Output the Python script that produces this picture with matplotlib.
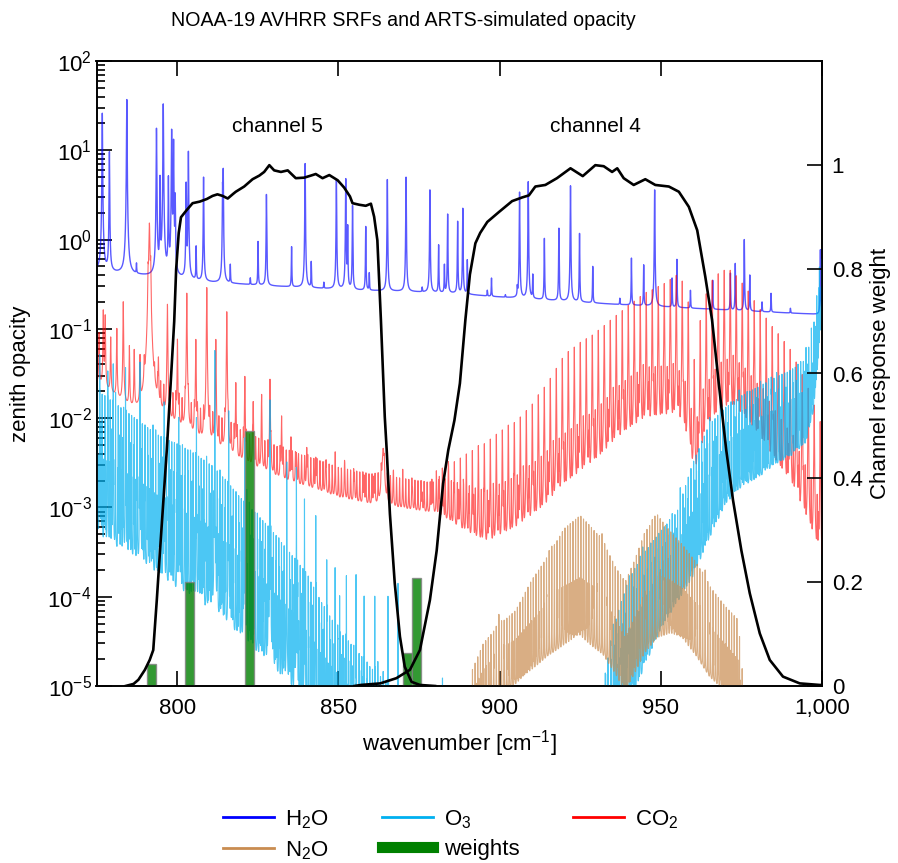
import numpy as np
import matplotlib
matplotlib.use("Agg")
import matplotlib.pyplot as plt
from matplotlib.lines import Line2D
from matplotlib.ticker import FixedLocator, FuncFormatter, LogLocator, NullFormatter

plt.rcParams['font.family'] = ['Liberation Sans', 'DejaVu Sans']
plt.rcParams['mathtext.fontset'] = 'custom'
plt.rcParams['mathtext.rm'] = 'Liberation Sans'
plt.rcParams['mathtext.it'] = 'Liberation Sans:italic'
plt.rcParams['mathtext.bf'] = 'Liberation Sans:bold'

# ---------------- data ----------------
# H2O: continuum and individual lines (wavenumber, peak opacity)
h2o_base_wn = [775, 781, 790, 811, 831, 857, 873, 886, 898, 934, 960, 991, 1000]
h2o_base_val = [0.45, 0.42, 0.39, 0.33, 0.30, 0.27, 0.26, 0.25, 0.23, 0.19, 0.17, 0.15, 0.145]
h2o_line_wn = [776.8, 779.0, 784.4, 787.4, 793.6, 794.7, 795.7, 797.3, 798.3, 798.9, 799.4,
               802.8, 803.5, 805.9, 808.2, 814.1, 814.3, 816.5, 822.7, 825.1, 827.7, 835.5,
               839.7, 841.6, 845.5, 849.4, 852.3, 852.9, 854.4, 858.5, 859.6, 865.2, 871.0,
               876.0, 878.4, 881.1, 882.9, 883.9, 887.0, 888.6, 890.0, 896.2, 897.5, 901.8,
               905.5, 906.2, 908.9, 910.3, 913.9, 918.4, 922.0, 924.8, 928.9, 937.3, 940.9,
               944.7, 948.1, 953.5, 955.0, 959.2, 966.1, 971.6, 973.1, 975.9, 977.6, 981.4,
               984.2, 990.2, 999.5]
h2o_line_val = [26, 9.6, 37, 0.52, 17.6, 5, 33, 5, 17, 13, 3,
                4.3, 9.7, 0.83, 5.0, 3.8, 5.9, 0.52, 0.37, 0.95, 3.2, 0.83,
                7.1, 0.56, 0.33, 4.7, 4.8, 1.4, 2.4, 1.4, 0.42, 4.7, 5.0,
                0.29, 3.6, 0.87, 0.52, 1.93, 1.6, 2.24, 0.59, 0.27, 0.37, 0.24,
                0.28, 3.4, 4.45, 0.4, 1.03, 1.34, 4.0, 1.17, 0.5, 0.22, 0.62,
                0.52, 3.6, 0.37, 0.6, 0.27, 0.35, 0.42, 0.54, 1.0, 0.40, 0.2,
                0.25, 0.17, 0.77]

# CO2: continuum (line-free floor)
co2_base_wn = [775, 780, 785, 790, 795, 800, 805, 810, 815, 820, 825, 830, 835, 840, 845, 850,
               855, 860, 865, 870, 875, 880, 885, 890, 897, 902, 910, 920, 925, 930, 935, 940,
               945, 950, 955, 959, 961, 964, 968, 972, 976, 980, 985, 990, 995, 1000]
co2_base_val = [0.025, 0.018, 0.012, 0.009, 0.009, 0.007, 0.0055, 0.0047, 0.0038, 0.003, 0.0025,
                0.0021, 0.0018, 0.0016, 0.0014, 0.0012, 0.0011, 0.001, 0.00095, 0.0009, 0.00085,
                0.0008, 0.0006, 0.0004, 0.00025, 0.0003, 0.0004, 0.00055, 0.0007, 0.0011,
                0.0018, 0.0028, 0.0033, 0.003, 0.002, 0.001, 0.0008, 0.0012, 0.0023, 0.003,
                0.0028, 0.002, 0.001, 0.0005, 0.0002, 0.00008]
# CO2 lines 775-880 (wavenumber, peak opacity)
co2_line_wn = [775.8, 777.1, 777.7, 779.4, 781.3, 783.3, 785.2, 786.7, 788.5, 789.8, 791.0,
               791.4, 791.8, 794.2, 797.0, 800.1, 803.0, 805.8, 809.2, 812.0, 815.4, 818.2,
               821.0, 823.6, 826.2, 828.8, 832.4, 835.3, 837.0, 840.2, 843.0, 846.0, 849.0,
               852.0, 855.0, 858.0, 861.0, 863.9, 867.0, 870.0, 873.0, 876.0, 879.0]
co2_line_val = [0.09, 0.16, 0.14, 0.08, 0.10, 0.20, 0.063, 0.056, 0.045, 0.03, 0.3,
                1.5, 0.4, 0.04, 0.185, 0.075, 0.25, 0.075, 0.285, 0.07, 0.155, 0.0245,
                0.029, 0.0147, 0.016, 0.027, 0.0104, 0.006, 0.0039, 0.0045, 0.0035, 0.003, 0.0028,
                0.0025, 0.0023, 0.0022, 0.0021, 0.0045, 0.0018, 0.0016, 0.0015, 0.0014, 0.002]
# CO2 band lines 880-1000: peak envelope of the strong lines
co2_peak_wn = [880, 885, 890, 895, 900, 905, 910, 915, 920, 925, 930, 935, 940, 945, 950,
               955, 958, 960.5, 963, 966, 969, 972, 976, 980, 985, 990, 995, 1000]
co2_peak_val = [0.0025, 0.003, 0.004, 0.005, 0.007, 0.009, 0.014, 0.025, 0.05, 0.07, 0.09,
                0.13, 0.18, 0.25, 0.3, 0.4, 0.3, 0.04, 0.2, 0.35, 0.45, 0.45, 0.3, 0.18, 0.1,
                0.06, 0.025, 0.008]
co2_band = (880.4, 1000.0, 1.86)      # first line, last, spacing
co2_band3 = (881.1, 1000.0, 1.55)
co2_weak = (793.0, 880.0, 0.95)

# O3: upper and lower envelopes of the line forest
o3_env_wn = [775, 780, 785, 790, 795, 800, 805, 810, 815, 820, 825, 830, 835, 840, 845,
             850, 855, 860, 865, 870, 875, 900, 930, 935, 940, 945, 950, 955, 960, 965,
             970, 975, 980, 985, 990, 995, 997.5, 999, 1000]
o3_top_val = [0.02, 0.015, 0.011, 0.008, 0.006, 0.005, 0.004, 0.003, 0.002, 0.0012, 0.0008,
              0.0005, 0.0003, 0.00018, 8e-5, 4e-5, 2.5e-5, 1.5e-5, 1e-5, 5e-6, 2e-6, 1e-7,
              3e-6, 4e-5, 1.5e-4, 3e-4, 5e-4, 8e-4, 0.003, 0.008, 0.012, 0.016, 0.02, 0.025,
              0.03, 0.04, 0.1, 0.35, 0.9]
o3_bot_val = [4e-4, 3e-4, 2.5e-4, 2e-4, 1.4e-4, 1e-4, 8e-5, 6e-5, 4e-5, 3e-5, 2e-5, 1.3e-5,
              8e-6, 5e-6, 3e-6, 2e-6, 1.5e-6, 1e-6, 1e-6, 1e-6, 1e-6, 1e-8,
              1e-7, 2e-6, 5e-6, 1.5e-5, 4e-5, 8e-5, 1.5e-4, 4e-4, 0.001, 0.0016, 0.002,
              0.0028, 0.0035, 0.005, 0.012, 0.05, 0.2]
o3_spike_wn = [776.0, 778.5, 780.2, 784.0, 788.5, 796.0, 800.5, 806.0, 811.7, 816.0, 821.0,
               828.8, 834.0, 837.0, 839.5, 843.0, 846.4, 849.0, 850.4, 852.5, 855.5, 858.0,
               861.3, 865.4, 868.5, 882.3]
o3_spike_val = [0.05, 0.03, 0.04, 0.035, 0.042, 0.015, 0.01, 0.01, 0.057, 0.012, 0.006,
                0.016, 0.003, 0.0028, 0.0012, 0.0008, 0.00025, 0.0002, 0.0001, 0.00017, 0.00017,
                0.0001, 0.0001, 0.0001, 0.00014, 1.2e-5]
o3_sets = [(775.10, 0.83, 1.0), (775.45, 0.61, 0.55), (775.25, 1.13, 0.8)]

# N2O: upper and lower envelopes
n2o_env_wn = [891.5, 895, 900, 905, 910, 915, 920, 925, 928, 932, 936, 939, 942, 945, 949,
              953, 957, 961, 965, 970, 974, 975.5]
n2o_top_val = [1.2e-5, 2.5e-5, 4e-5, 6e-5, 1.4e-4, 2.6e-4, 5.5e-4, 7.8e-4, 6e-4, 4e-4, 2e-4,
               1.4e-4, 2.5e-4, 5e-4, 7.8e-4, 5e-4, 3.4e-4, 2.2e-4, 1.2e-4, 7e-5, 5e-5, 1e-5]
n2o_bot_val = [3e-6, 5e-6, 8e-6, 1e-5, 1.4e-5, 2e-5, 2.5e-5, 3e-5, 2.5e-5, 2e-5, 1.2e-5, 7e-6,
               1.2e-5, 2e-5, 3e-5, 3.5e-5, 3e-5, 2e-5, 1.2e-5, 8e-6, 5e-6, 2e-6]
n2o_sets = [(891.6, 0.82, 1.0), (892.0, 0.78, 0.45)]

# Spectral response functions (wavenumber, weight)
ch5_wn = [784.0, 786.5, 788.0, 790.0, 791.5, 792.6, 793.7, 794.7, 796.8, 797.9, 799.1, 799.7,
          800.5, 801.2, 803.0, 804.8, 807.0, 809.2, 811.0, 812.5, 814.1, 815.7, 817.4, 818.2,
          820.8, 823.4, 825.5, 827.0, 828.6, 830.1, 832.2, 834.3, 836.8, 839.4, 841.5, 843.0,
          845.1, 847.2, 849.8, 851.8, 853.6, 854.4, 856.5, 858.5, 860.1, 861.1, 862.1, 863.2,
          864.4, 865.0, 866.0, 867.5, 869.1, 870.6, 872.7, 875.3, 880.0]
ch5_val = [0.0, 0.004, 0.012, 0.031, 0.05, 0.069, 0.165, 0.26, 0.453, 0.57, 0.70, 0.80,
           0.87, 0.90, 0.914, 0.927, 0.93, 0.935, 0.941, 0.944, 0.941, 0.936, 0.945, 0.949,
           0.959, 0.973, 0.98, 0.987, 1.0, 0.99, 0.987, 0.99, 0.975, 0.976, 0.98, 0.983,
           0.975, 0.981, 0.971, 0.957, 0.94, 0.927, 0.924, 0.922, 0.926, 0.901, 0.856, 0.703,
           0.517, 0.453, 0.33, 0.197, 0.095, 0.037, 0.008, 0.002, 0.0]
ch4_wn = [855.0, 857.0, 863.0, 868.0, 872.2, 875.3, 878.4, 880.5, 882.5, 884.1, 886.0, 887.7,
          889.4, 890.8, 892.5, 894.0, 896.2, 899.8, 903.9, 907.0, 909.1, 911.1, 914.2, 917.8,
          922.0, 925.8, 929.7, 932.3, 934.9, 936.5, 938.5, 941.6, 945.2, 948.3, 952.5, 955.6,
          958.7, 961.3, 963.8, 965.9, 968.0, 970.3, 972.4, 975.0, 977.6, 980.7, 983.8, 987.9,
          993.1, 999.3, 1000.0]
ch4_val = [0.0, 0.002, 0.005, 0.015, 0.031, 0.069, 0.165, 0.26, 0.389, 0.453, 0.51, 0.581,
           0.703, 0.79, 0.85, 0.87, 0.891, 0.91, 0.931, 0.938, 0.942, 0.959, 0.962, 0.975,
           0.994, 0.979, 1.0, 0.998, 0.987, 0.994, 0.975, 0.962, 0.973, 0.962, 0.959, 0.949,
           0.92, 0.875, 0.786, 0.703, 0.58, 0.453, 0.357, 0.26, 0.178, 0.101, 0.05, 0.018,
           0.005, 0.002, 0.002]

weight_wn = [792.2, 803.7, 822.3, 871.4, 874.2]
weight_val = [0.042, 0.20, 0.49, 0.063, 0.208]

# ---------------- build spectra ----------------
wn = np.arange(775.0, 1000.0005, 0.01)


def envelope(x, ax_, ay_):
    return 10 ** np.interp(x, ax_, np.log10(ay_))


def lines(x, centers, heights, gamma, window=8.0):
    out = np.zeros_like(x)
    for c, h in zip(centers, heights):
        i0 = np.searchsorted(x, c - window)
        i1 = np.searchsorted(x, c + window)
        d = x[i0:i1] - c
        out[i0:i1] += h * gamma ** 2 / (d ** 2 + gamma ** 2)
    return out


# H2O
h2o_base = envelope(wn, h2o_base_wn, h2o_base_val)
h2o_h = np.array(h2o_line_val) - np.interp(h2o_line_wn, wn, h2o_base)
h2o = h2o_base + lines(wn, h2o_line_wn, h2o_h, 0.07, window=40)

# CO2
co2_base = envelope(wn, co2_base_wn, co2_base_val)
c_q = np.array(co2_line_wn)
h_q = np.array(co2_line_val) - np.interp(c_q, wn, co2_base)
gam = np.where(np.isclose(c_q, 791.4), 0.18, np.where(np.isclose(c_q, 863.9), 0.35, 0.09))
co2 = co2_base.copy()
for c, h, g in zip(c_q, h_q, gam):
    co2 += lines(wn, [c], [h], g, window=15)
cb = np.arange(*co2_band)
pk = envelope(cb, co2_peak_wn, co2_peak_val)
co2 += lines(wn, cb, np.clip(pk - np.interp(cb, wn, co2_base), 0, None), 0.08)
cb2 = cb[:-1] + co2_band[2] / 2
pk2 = np.sqrt(envelope(cb2, co2_peak_wn, co2_peak_val) * np.interp(cb2, wn, co2_base))
co2 += lines(wn, cb2, pk2, 0.06)
cb3 = np.arange(*co2_band3)
pk3 = (envelope(cb3, co2_peak_wn, co2_peak_val) ** 0.35
       * np.interp(cb3, wn, co2_base) ** 0.65)
co2 += lines(wn, cb3, pk3, 0.05)
cw = np.arange(*co2_weak)
co2 += lines(wn, cw, 1.3 * np.interp(cw, wn, co2_base), 0.08)

# O3
o3_bot = envelope(wn, o3_env_wn, o3_bot_val)
o3 = o3_bot.copy()
for start, step, frac in o3_sets:
    cc = np.arange(start, 1000.0, step)
    top = envelope(cc, o3_env_wn, o3_top_val)
    bot = envelope(cc, o3_env_wn, o3_bot_val)
    o3 += lines(wn, cc, top ** frac * bot ** (1 - frac), 0.015, window=3)
o3 += lines(wn, o3_spike_wn, o3_spike_val, 0.015, window=3)

# N2O
n2o_bot = envelope(wn, n2o_env_wn, n2o_bot_val)
inband = (wn >= n2o_env_wn[0]) & (wn <= n2o_env_wn[-1])
n2o = n2o_bot.copy()
for start, step, frac in n2o_sets:
    cc = np.arange(start, n2o_env_wn[-1], step)
    top = envelope(cc, n2o_env_wn, n2o_top_val)
    bot = envelope(cc, n2o_env_wn, n2o_bot_val)
    n2o += lines(wn, cc, top ** frac * bot ** (1 - frac), 0.02, window=3)
n2o = np.where(inband, n2o, np.nan)

# ---------------- plot ----------------
W, H = 898, 863
fig = plt.figure(figsize=(W / 100, H / 100), dpi=100)
L, R, T, B = 96.5, 822, 61, 686
ax = fig.add_axes([L / W, 1 - B / H, (R - L) / W, (B - T) / H])
ax2 = ax.twinx()

c_h2o, c_o3, c_co2, c_n2o = '#0000ff', '#00b0f0', '#ff0000', '#c98c50'
ax.semilogy(wn, h2o, color=c_h2o, lw=1.0, alpha=0.65, zorder=2)
ax.semilogy(wn, co2, color=c_co2, lw=0.8, alpha=0.6, zorder=3)
ax.semilogy(wn, o3, color=c_o3, lw=0.8, alpha=0.7, zorder=4)
ax.semilogy(wn, n2o, color=c_n2o, lw=0.8, alpha=0.7, zorder=5)

ax.set_xlim(775, 1000)
ax.set_ylim(1e-5, 1e2)
ax.set_xticks([800, 850, 900, 950, 1000])
ax.xaxis.set_major_formatter(FuncFormatter(lambda v, p: f"{v:,.0f}"))
ax.yaxis.set_major_locator(LogLocator(base=10, numticks=20))
ax.yaxis.set_minor_locator(LogLocator(base=10, subs=np.arange(2, 10), numticks=100))
ax.yaxis.set_minor_formatter(NullFormatter())
ax.tick_params(which='both', direction='in', top=True, right=False, labelsize=16,
               width=1.2)
ax.tick_params(which='major', length=11)
ax.tick_params(which='minor', length=6)
ax.tick_params(axis='x', pad=8.5)
ax.set_xlabel('wavenumber [cm$^{-1}$]', fontsize=16, labelpad=7)
ax.set_ylabel('zenith opacity', fontsize=16, labelpad=12)

ax2.bar(weight_wn, weight_val, width=2.8, color='green', alpha=0.8,
        edgecolor='gray', linewidth=1.0, zorder=1)
ax2.plot(ch5_wn, ch5_val, color='black', lw=1.9, zorder=3)
ax2.plot(ch4_wn, ch4_val, color='black', lw=1.9, zorder=3)
ax2.set_ylim(0, 1.2)
ax2.set_xlim(775, 1000)
ax2.yaxis.set_major_locator(FixedLocator([0, 0.2, 0.4, 0.6, 0.8, 1.0]))
ax2.yaxis.set_major_formatter(FuncFormatter(lambda v, p: f"{v:g}"))
ax2.tick_params(direction='in', length=11, width=1.2, labelsize=16, pad=7)
ax2.set_ylabel('Channel response weight', fontsize=16, labelpad=5)

for a in (ax, ax2):
    for s in a.spines.values():
        s.set_linewidth(1.2)

ax2.text(831.0, 1.075, 'channel 5', fontsize=15, ha='center', va='center')
ax2.text(929.8, 1.075, 'channel 4', fontsize=15, ha='center', va='center')

fig.text(403.5 / W, 1 - 20 / H, 'NOAA-19 AVHRR SRFs and ARTS-simulated opacity',
         fontsize=14.1, ha='center', va='center')

handles = [Line2D([], [], color=c_h2o, lw=2), Line2D([], [], color=c_n2o, lw=2),
           Line2D([], [], color=c_o3, lw=2), Line2D([], [], color='green', lw=8),
           Line2D([], [], color=c_co2, lw=2)]
labels = ['H$_2$O', 'N$_2$O', 'O$_3$', 'weights', 'CO$_2$']
fig.legend(handles, labels, loc='center', bbox_to_anchor=(0.502, 1 - 835 / H), ncol=3,
           frameon=False, fontsize=16, handlelength=2.3, handletextpad=0.5,
           columnspacing=2.4, labelspacing=0.38)

fig.savefig('out.png', dpi=100)
